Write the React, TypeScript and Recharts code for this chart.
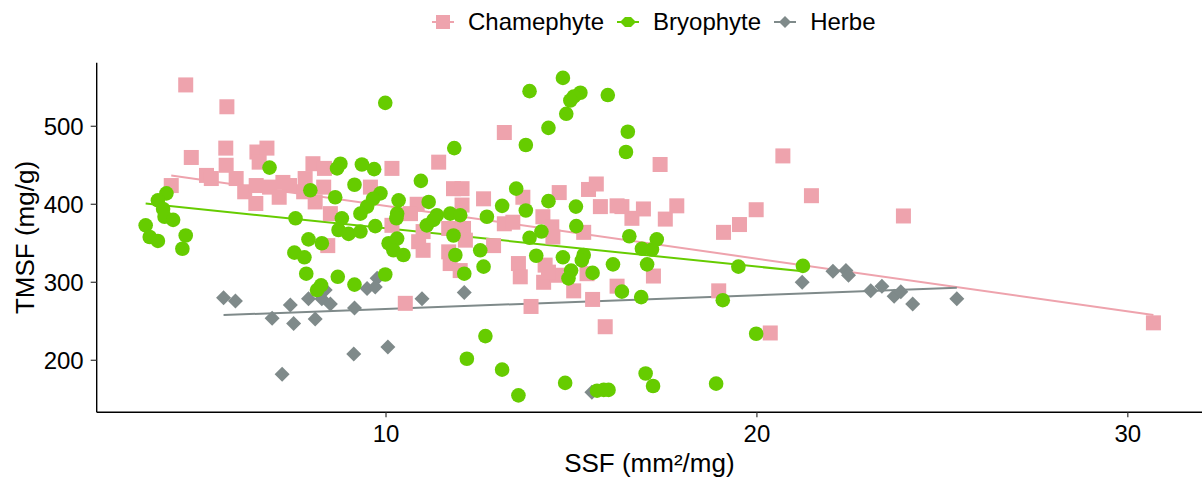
import { ScatterChart, Scatter, XAxis, YAxis, ReferenceLine, Label } from 'recharts';

const PINK = '#EEA3AD';
const GREEN = '#66CC00';
const GREY = '#7F8A8A';

// Chamephyte
const chamX = [4.60, 5.71, 4.75, 5.68, 5.69, 6.52, 6.79, 6.58, 5.16, 5.29, 4.21, 5.96, 6.19, 6.50, 6.49, 6.86, 7.22, 7.40, 7.12,
  8.03, 8.34, 10.16, 11.42, 7.82, 8.32, 7.78, 8.09, 9.58, 8.50, 8.43, 11.82, 12.05, 12.05, 12.63, 10.84, 10.66, 10.16, 11.00,
  10.88, 11.00, 11.69, 12.09, 12.14, 11.69, 11.73, 12.00, 10.52,
  13.19, 17.39, 13.69, 14.67, 15.46, 15.67, 15.78, 16.23, 16.36, 16.94, 16.63, 17.53, 17.84, 13.19, 13.42, 14.23, 14.47, 14.50,
  15.33, 12.90, 13.57, 13.62, 14.29, 14.25, 14.61, 14.38, 15.06, 15.42, 15.57, 13.91, 15.91, 16.23, 17.21,
  20.70, 21.47, 19.98, 19.53, 19.10, 18.97, 20.36, 23.95, 30.69];
const chamY = [553, 525, 460, 472, 450, 467, 472, 454, 437, 433, 424, 433, 416, 424, 401, 422, 428, 424, 409,
  452, 446, 446, 454, 433, 422, 416, 403, 422, 388, 347, 420, 420, 399, 407, 400, 388, 373, 365,
  352, 341, 369, 369, 354, 339, 324, 315, 273,
  492, 451, 409, 415, 419, 426, 397, 398, 397, 394, 382, 381, 398, 375, 377, 384, 371, 358,
  364, 347, 324, 307, 322, 300, 309, 313, 289, 311, 278, 269, 243, 295, 308,
  462, 411, 393, 374, 364, 289, 235, 385, 248];

// Bryophyte
const bryoX = [6.86, 4.08, 3.85, 3.99, 4.03, 4.26, 3.52, 3.63, 3.85, 4.60, 4.51, 7.56, 7.53,
  9.98, 11.84, 8.77, 8.68, 9.35, 9.68, 10.94, 9.15, 7.96, 9.85, 9.65, 8.63, 10.34, 11.15, 9.49, 9.31, 10.30, 11.37, 11.73,
  12.00, 12.72, 8.81, 8.72, 8.99, 9.31, 9.71, 10.28, 11.10, 11.28, 11.82, 7.91, 8.27, 10.07, 10.30, 10.20, 10.47, 7.80,
  11.87, 12.54, 12.63, 12.11, 7.85, 8.70, 9.15, 9.98, 8.25, 8.14, 12.68, 12.18,
  14.77, 13.87, 15.24, 15.06, 14.97, 15.98, 14.86, 14.38, 13.77, 16.52, 16.47, 13.51, 13.13, 13.77, 14.38, 15.12, 15.13,
  14.19, 13.87, 16.56, 17.30, 16.90, 17.17, 14.05, 14.77, 15.33, 15.28, 14.99, 14.92, 15.57, 16.12, 17.04, 16.36, 16.88,
  13.13, 13.57, 14.83, 15.69, 15.87, 16.00, 17.00, 17.20,
  19.50, 21.24, 19.08, 19.98, 18.90];
const bryoY = [447, 414, 405, 394, 384, 380, 373, 358, 353, 360, 343, 382, 338,
  530, 472, 452, 446, 451, 445, 430, 425, 418, 414, 407, 409, 405, 403, 397, 388, 388, 386, 388,
  386, 384, 382, 367, 362, 365, 372, 382, 373, 380, 360, 355, 350, 350, 356, 341, 335, 332,
  335, 341, 320, 311, 311, 307, 297, 310, 296, 290, 231, 202,
  562, 545, 543, 538, 533, 540, 516, 498, 476, 493, 467, 420, 398, 392, 404, 397, 372,
  365, 357, 359, 355, 343, 342, 334, 332, 335, 328, 315, 305, 312, 323, 323, 288, 281,
  188, 155, 171, 161, 162, 162, 183, 167,
  320, 321, 277, 234, 170];

// Herbe
const herbeX = [5.62, 5.94, 6.93, 7.20, 7.42, 7.51, 7.91, 8.09, 8.27, 8.36, 8.50, 9.15, 9.13, 9.49, 9.76, 9.71, 10.05,
  10.97, 12.11, 15.55, 21.22, 22.05, 22.40, 22.47, 23.07, 23.37, 23.70, 23.88, 24.20, 25.39];
const herbeY = [280, 276, 254, 182, 271, 247, 279, 253, 279, 290, 272, 267, 208, 292, 305, 294, 217,
  279, 287, 159, 300, 314, 315, 309, 289, 295, 282, 288, 272, 279];

// fitted lines (start / end)
const chamTrendX = [4.21, 30.69];
const chamTrendY = [437, 258];
const bryoTrendX = [3.52, 21.24];
const bryoTrendY = [401, 314];
const herbeTrendX = [5.62, 25.39];
const herbeTrendY = [258, 293];

const xTicks = [10, 20, 30];
const yTicks = [200, 300, 400, 500];

const zip = (xs: number[], ys: number[]) => xs.map((x, i) => ({ x, y: ys[i] }));
const chamData = zip(chamX, chamY);
const bryoData = zip(bryoX, bryoY);
const herbeData = zip(herbeX, herbeY);

const FONT = '"Liberation Sans", Arial, sans-serif';

const Square = (p: any) => <rect x={p.cx - 7.5} y={p.cy - 7.5} width={15} height={15} fill={PINK} />;
const Dot = (p: any) => <circle cx={p.cx} cy={p.cy} r={7.3} fill={GREEN} />;
const Diamond = (p: any) => (
  <polygon points={`${p.cx},${p.cy - 7.5} ${p.cx + 7.5},${p.cy} ${p.cx},${p.cy + 7.5} ${p.cx - 7.5},${p.cy}`} fill={GREY} />
);

function LegendKey({ color, kind }: { color: string; kind: string }) {
  return (
    <svg width={22} height={22} style={{ display: 'block' }}>
      <line x1={0} y1={11} x2={22} y2={11} stroke={color} strokeWidth={2} />
      {kind === 'square' && <rect x={4} y={4} width={14} height={14} fill={color} />}
      {kind === 'dot' && <polygon points="3,11 8,6 14,6 19,11 14,16 8,16" fill={color} />}
      {kind === 'diamond' && <polygon points="11,5 17,11 11,17 5,11" fill={color} />}
    </svg>
  );
}

const legendItems = [
  { name: 'Chamephyte', color: PINK, kind: 'square' },
  { name: 'Bryophyte', color: GREEN, kind: 'dot' },
  { name: 'Herbe', color: GREY, kind: 'diamond' },
];

export default function App() {
  const tickStyle = { fontSize: 24, fill: '#000', fontFamily: FONT };
  return (
    <div style={{ position: 'absolute', left: 0, top: 0, width: 1203, height: 479, background: '#fff', fontFamily: FONT }}>
      <div style={{ position: 'absolute', left: 432, top: 0, height: 44, display: 'flex', alignItems: 'center', fontSize: 24, color: '#000' }}>
        {legendItems.map((it) => (
          <div key={it.name} style={{ display: 'flex', alignItems: 'center', marginRight: 13 }}>
            <LegendKey color={it.color} kind={it.kind} />
            <span style={{ marginLeft: 14, lineHeight: 1 }}>{it.name}</span>
          </div>
        ))}
      </div>
      <ScatterChart width={1203} height={479} margin={{ top: 62.7, right: 1, bottom: 0, left: 0 }}>
        <XAxis
          type="number"
          dataKey="x"
          domain={[2.2, 32]}
          ticks={xTicks}
          allowDataOverflow
          height={66.7}
          tick={tickStyle}
          tickSize={5}
          tickMargin={8}
          axisLine={{ stroke: '#000', strokeWidth: 1.4 }}
          tickLine={{ stroke: '#333', strokeWidth: 1.2 }}
        >
          <Label value="SSF (mm²/mg)" position="insideBottom" offset={7} style={{ fontSize: 26, fill: '#000', fontFamily: FONT }} />
        </XAxis>
        <YAxis
          type="number"
          dataKey="y"
          domain={[133.3, 581.5]}
          ticks={yTicks}
          allowDataOverflow
          width={96.7}
          tick={tickStyle}
          tickSize={6}
          tickMargin={7}
          axisLine={{ stroke: '#000', strokeWidth: 1.4 }}
          tickLine={{ stroke: '#333', strokeWidth: 1.2 }}
        >
          <Label value="TMSF (mg/g)" angle={-90} position="center" dx={-24} style={{ fontSize: 26, fill: '#000', fontFamily: FONT, textAnchor: 'middle' }} />
        </YAxis>
        <Scatter name="Herbe" data={herbeData} shape={Diamond} isAnimationActive={false} />
        <Scatter name="Chamephyte" data={chamData} shape={Square} isAnimationActive={false} />
        <Scatter name="Bryophyte" data={bryoData} shape={Dot} isAnimationActive={false} />
        <ReferenceLine
          segment={[{ x: chamTrendX[0], y: chamTrendY[0] }, { x: chamTrendX[1], y: chamTrendY[1] }]}
          stroke={PINK}
          strokeWidth={2}
          ifOverflow="visible"
        />
        <ReferenceLine
          segment={[{ x: bryoTrendX[0], y: bryoTrendY[0] }, { x: bryoTrendX[1], y: bryoTrendY[1] }]}
          stroke={GREEN}
          strokeWidth={2}
          ifOverflow="visible"
        />
        <ReferenceLine
          segment={[{ x: herbeTrendX[0], y: herbeTrendY[0] }, { x: herbeTrendX[1], y: herbeTrendY[1] }]}
          stroke={GREY}
          strokeWidth={2}
          ifOverflow="visible"
        />
      </ScatterChart>
    </div>
  );
}
